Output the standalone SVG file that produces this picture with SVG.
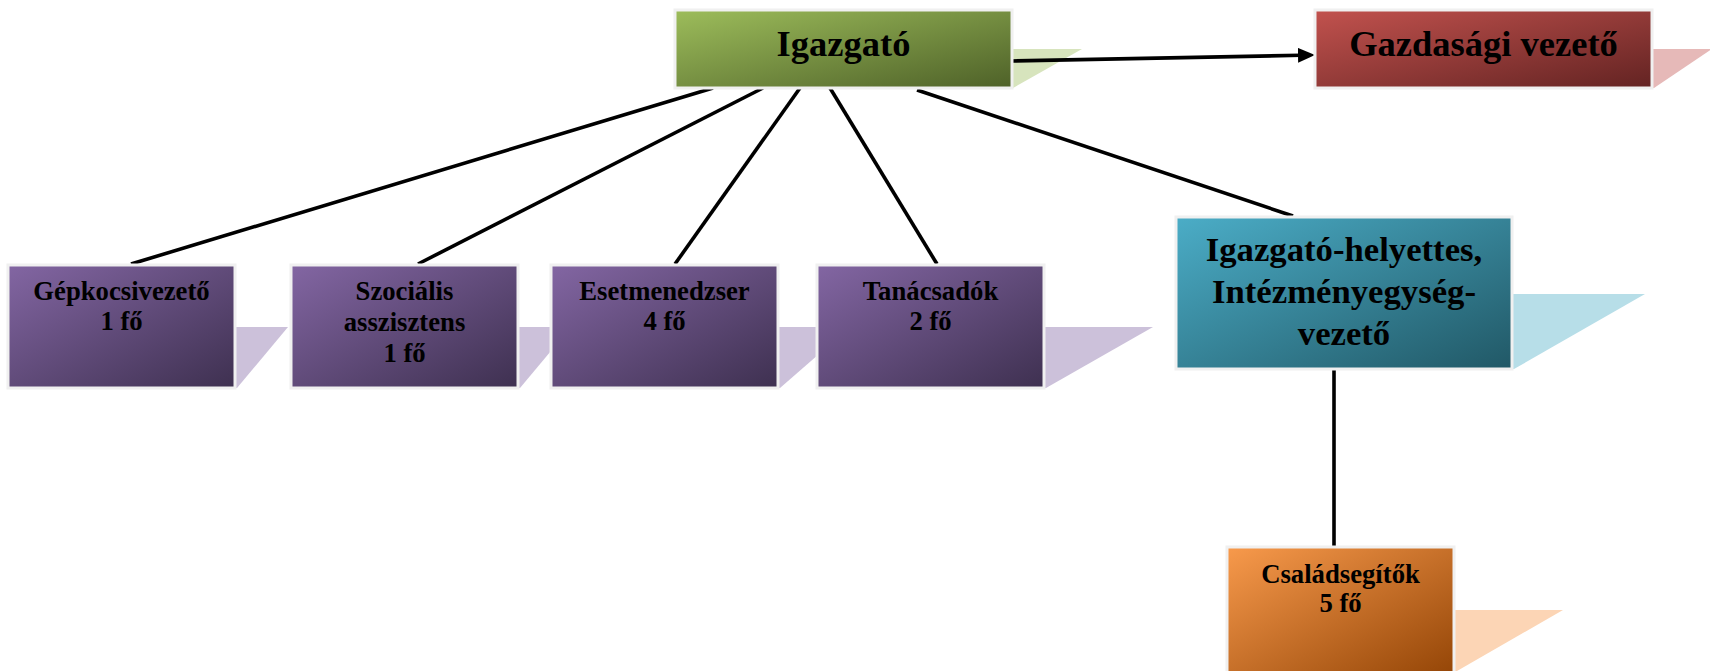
<svg xmlns="http://www.w3.org/2000/svg" width="1710" height="671" viewBox="0 0 1710 671">
<style>
.box{stroke:#f0f0f0;stroke-width:3}
.t{font-family:"Liberation Serif","Times New Roman",serif;font-weight:bold;fill:#000;text-anchor:middle}
.big{font-size:36.5px}
.mid{font-size:34.7px}
.sm{font-size:26.7px}
.conn{stroke:#000;stroke-width:3.6;fill:none}
</style>
<defs>
<linearGradient id="gG" x1="0" y1="0" x2="1" y2="1"><stop offset="0" stop-color="#9dbd5b"/><stop offset="1" stop-color="#4e6128"/></linearGradient>
<linearGradient id="gR" x1="0" y1="0" x2="1" y2="1"><stop offset="0" stop-color="#c2524e"/><stop offset="1" stop-color="#632322"/></linearGradient>
<linearGradient id="gP" x1="0" y1="0" x2="1" y2="1"><stop offset="0" stop-color="#8366a3"/><stop offset="1" stop-color="#3e3050"/></linearGradient>
<linearGradient id="gB" x1="0" y1="0" x2="1" y2="1"><stop offset="0" stop-color="#4badc7"/><stop offset="1" stop-color="#215866"/></linearGradient>
<linearGradient id="gO" x1="0" y1="0" x2="1" y2="1"><stop offset="0" stop-color="#f89a4c"/><stop offset="1" stop-color="#954607"/></linearGradient>
<marker id="arr" markerUnits="userSpaceOnUse" markerWidth="18" markerHeight="16" refX="3" refY="7.5" orient="auto"><path d="M0,0 L17,7.5 L0,15 z" fill="#000"/></marker>
</defs>
<rect width="1710" height="671" fill="#fff"/>

<g id="shadows">
<polygon points="990,49 1082,49 1013,88 990,88" fill="#d7e4bd"/>
<polygon points="1640,49 1712,49 1654,88 1640,88" fill="#e6b9b8"/>
<polygon points="225,327 288,327 237,388 225,388" fill="#ccc1da"/>
<polygon points="505,327 571,327 520,388 505,388" fill="#ccc1da"/>
<polygon points="765,327 850,327 780,388 765,388" fill="#ccc1da"/>
<polygon points="1030,327 1153,327 1046,388 1030,388" fill="#ccc1da"/>
<polygon points="1500,294 1645,294 1514,369 1500,369" fill="#b7dee8"/>
<polygon points="1440,610 1563,610 1457,671 1440,671" fill="#fcd5b5"/>
</g>

<g id="connectors">
<line class="conn" x1="713" y1="88" x2="131" y2="264"/>
<line class="conn" x1="763" y1="88" x2="418" y2="264"/>
<line class="conn" x1="800" y1="88" x2="675" y2="264"/>
<line class="conn" x1="830" y1="88" x2="937" y2="264"/>
<line class="conn" x1="917" y1="90" x2="1293" y2="216"/>
<line class="conn" x1="1334" y1="369" x2="1334" y2="547"/>
<line class="conn" x1="1012" y1="61" x2="1301" y2="55.3" marker-end="url(#arr)"/>
</g>

<g id="igazgato">
<rect class="box" x="675" y="10" width="337" height="78" fill="url(#gG)"/>
<text class="t big" x="843.5" y="56">Igazgató</text>
</g>
<g id="gazdasagi">
<rect class="box" x="1315" y="10" width="337" height="78" fill="url(#gR)"/>
<text class="t big" x="1483.5" y="56">Gazdasági vezető</text>
</g>
<g id="gepkocsivezeto">
<rect class="box" x="8" y="265" width="227" height="123" fill="url(#gP)"/>
<text class="t sm" x="121.5" y="300">Gépkocsivezető</text>
<text class="t sm" x="121.5" y="330">1 fő</text>
</g>
<g id="szocialis">
<rect class="box" x="291" y="265" width="227" height="123" fill="url(#gP)"/>
<text class="t sm" x="404.5" y="300">Szociális</text>
<text class="t sm" x="404.5" y="331">asszisztens</text>
<text class="t sm" x="404.5" y="362">1 fő</text>
</g>
<g id="esetmenedzser">
<rect class="box" x="551" y="265" width="227" height="123" fill="url(#gP)"/>
<text class="t sm" x="664.5" y="300">Esetmenedzser</text>
<text class="t sm" x="664.5" y="330">4 fő</text>
</g>
<g id="tanacsadok">
<rect class="box" x="817" y="265" width="227" height="123" fill="url(#gP)"/>
<text class="t sm" x="930.5" y="300">Tanácsadók</text>
<text class="t sm" x="930.5" y="330">2 fő</text>
</g>
<g id="igazgatohelyettes">
<rect class="box" x="1176" y="217" width="336" height="152" fill="url(#gB)"/>
<text class="t mid" x="1344" y="261">Igazgató-helyettes,</text>
<text class="t mid" x="1344" y="303">Intézményegység-</text>
<text class="t mid" x="1344" y="345">vezető</text>
</g>
<g id="csaladsegitok">
<rect class="box" x="1227" y="547" width="227" height="126" fill="url(#gO)"/>
<text class="t sm" x="1340.5" y="583">Családsegítők</text>
<text class="t sm" x="1340.5" y="612">5 fő</text>
</g>
</svg>
